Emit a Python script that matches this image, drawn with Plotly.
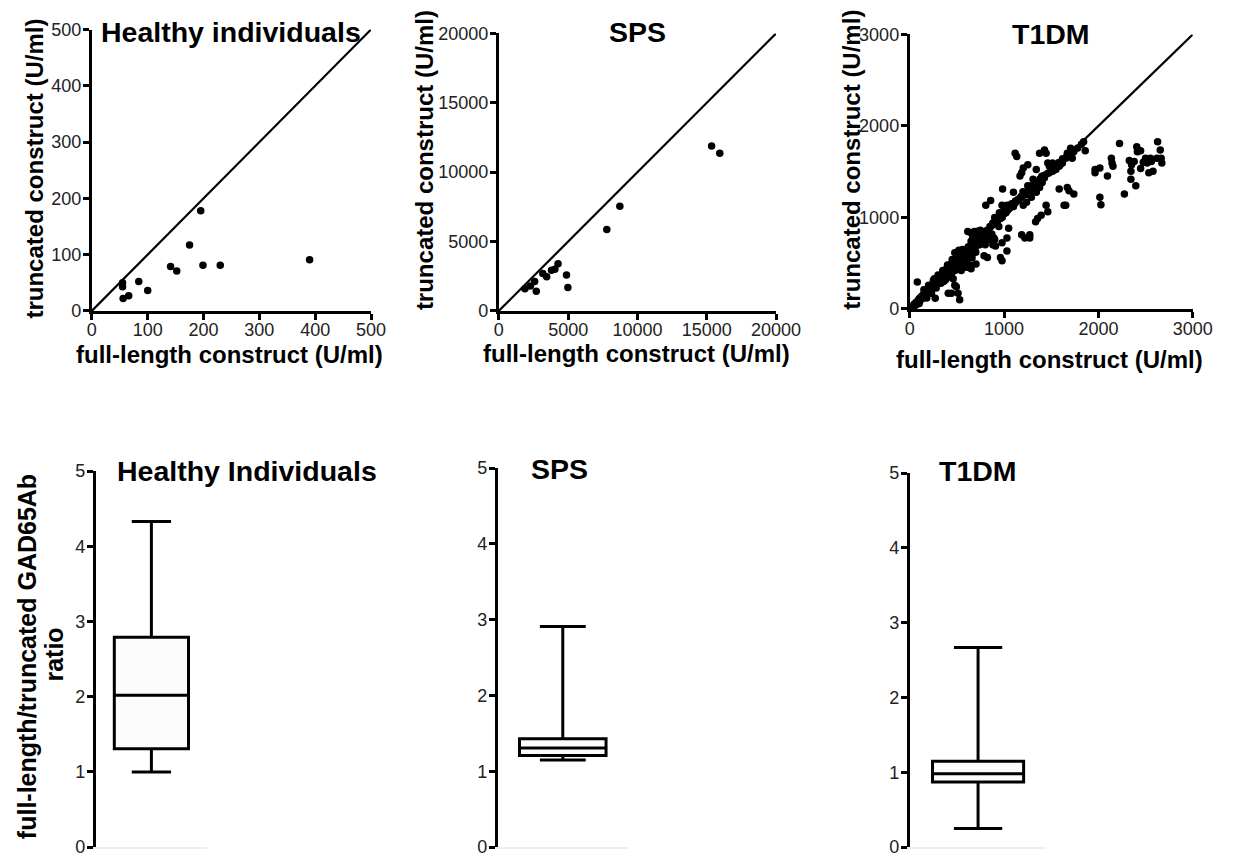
import plotly.graph_objects as go

# ---------------- data ----------------
hi_full = [55, 55, 56, 66, 84, 100, 141, 152, 175, 195, 199, 230, 390]
hi_trunc = [50, 43, 22, 27, 52, 36, 79, 71, 117, 178, 81, 81, 91]

sps_full = [1880, 2280, 2580, 2700, 3170, 3450, 3800, 4040, 4270, 4880, 4980, 7790, 8730, 15350, 15940]
sps_trunc = [1590, 1800, 2110, 1410, 2700, 2460, 2930, 3000, 3400, 2580, 1690, 5860, 7550, 11890, 11370]

t1_full = [
    20, 30, 40, 45, 55, 60, 65, 70, 75, 80, 85, 90, 95, 100, 100, 105, 110, 115, 120, 125,
    130, 135, 140, 145, 150, 155, 160, 165, 170, 175, 180, 185, 190, 195, 200, 205, 210, 215, 220, 225,
    230, 235, 240, 245, 250, 255, 260, 265, 270, 275, 280, 285, 290, 295, 300, 305, 310, 315, 320, 325,
    330, 335, 340, 345, 350, 355, 360, 365, 370, 375, 380, 385, 390, 395, 400, 405, 410, 415, 420, 425,
    430, 435, 440, 445, 450, 455, 460, 465, 470, 480, 490, 500, 510, 520, 530, 540, 550, 560, 570, 580,
    590, 600, 610, 620, 630, 640, 660, 680, 700, 720, 740, 760, 780, 800,
    80, 270, 408, 442, 494, 512, 529, 477, 546, 581, 460,
    615, 650, 684, 719, 736, 650, 700, 750, 770, 546, 580, 560, 477,
    820, 850, 880, 900, 930, 950, 980, 1000, 1020, 1050, 1080, 1100, 1120, 1150, 1180, 1200, 1230, 1260,
    1290, 1300, 1330, 1350, 1380, 1400, 1430, 1460, 1500, 1540, 1580, 1600, 1620, 1660, 1700, 1740, 1780, 1820,
    1117, 1134, 1203, 1186, 1251, 1341, 1307, 1251, 1272, 1238, 1289, 1341, 1376, 1238, 1203, 1030, 1065, 978,
    984, 857, 806, 961, 1048, 1099, 1168, 1355, 1334, 1393, 1445, 1463, 1186, 1220, 1272, 1272, 978, 978,
    961, 1030, 1030, 892, 909, 944, 823, 788, 719, 684, 667, 857, 823, 788, 702, 650, 615,
    1843, 1860, 1722, 1722, 1705, 1670, 1653, 1618, 1584, 1549, 1514, 1480, 1428, 1404, 1514, 1532, 1670, 1688,
    1739, 1584, 1636, 1653, 1445, 1428, 1376, 1463, 1480,
    1964, 1964, 2015, 2015, 2026, 2095, 2137, 2144, 2154, 2223, 2275, 2327, 2344, 2344, 2351, 2379, 2396,
    2406, 2413, 2447, 2447, 2475, 2499, 2516, 2534, 2551, 2561, 2578, 2620, 2627, 2655, 2672, 2665,
    150, 200, 250, 300, 350, 400, 450, 500, 520, 480, 420, 380, 330, 280, 230, 180, 160, 260, 360, 440,
    550, 600, 620, 680, 660, 700, 750, 720, 800, 830, 870, 880, 900, 640, 590, 540, 500, 470, 430, 390,
]
t1_trunc = [
    15, 25, 30, 50, 40, 55, 70, 45, 60, 80, 70, 95, 85, 110, 60, 95, 120, 100, 130, 110,
    140, 125, 150, 120, 160, 145, 130, 175, 150, 190, 165, 200, 170, 215, 185, 225, 200, 230, 190, 245,
    215, 260, 220, 270, 240, 280, 250, 290, 260, 300, 265, 320, 280, 310, 290, 340, 295, 330, 300, 355,
    320, 370, 330, 360, 340, 390, 345, 380, 360, 410, 370, 400, 375, 430, 390, 450, 400, 470, 410, 440,
    420, 490, 430, 460, 440, 510, 450, 480, 460, 500, 470, 540, 490, 560, 510, 580, 530, 600, 550, 620,
    570, 640, 590, 560, 600, 650, 640, 700, 680, 720, 700, 760, 740, 820,
    295, 117, 171, 171, 242, 171, 100, 260, 420, 456, 331,
    847, 829, 847, 829, 800, 740, 700, 780, 720, 633, 600, 650, 615,
    860, 900, 940, 1000, 960, 1050, 1000, 1080, 1050, 1100, 1150, 1120, 1180, 1200, 1230, 1280, 1250, 1300,
    1290, 1350, 1380, 1340, 1420, 1450, 1460, 1480, 1520, 1560, 1600, 1580, 1640, 1660, 1690, 1720, 1760, 1800,
    1701, 1666, 1541, 1488, 1577, 1523, 1417, 1345, 1310, 1256, 1221, 1274, 1327, 1167, 1132, 1132, 1132, 1132,
    1310, 1185, 1132, 989, 882, 1274, 1452, 989, 953, 1025, 1132, 1061, 811, 776, 811, 776, 722, 527,
    562, 776, 633, 776, 687, 900, 776, 811, 847, 829, 776, 776, 562, 580, 491, 438, 456,
    1826, 1730, 1701, 1648, 1755, 1701, 1648, 1594, 1559, 1523, 1505, 1488, 1434, 1381, 1594, 1577, 1327, 1292,
    1256, 1310, 1132, 1132, 1701, 1737, 1701, 1594, 1559,
    1488, 1523, 1541, 1221, 1139, 1452, 1648, 1594, 1559, 1808, 1256, 1623, 1505, 1416, 1577, 1612, 1345,
    1772, 1719, 1534, 1730, 1602, 1648, 1594, 1488, 1648, 1612, 1505, 1648, 1826, 1737, 1594, 1648,
    210, 260, 310, 370, 420, 480, 540, 600, 640, 420, 350, 320, 280, 230, 170, 120, 200, 330, 300, 380,
    480, 520, 680, 760, 560, 620, 860, 850, 700, 760, 820, 700, 760, 480, 500, 560, 460, 520, 480, 440,
]

box_groups = ["Healthy Individuals", "SPS", "T1DM"]
box_lowerfence = [1.00, 1.15, 0.25]
box_q1 = [1.31, 1.21, 0.87]
box_median = [2.02, 1.31, 0.98]
box_q3 = [2.79, 1.43, 1.15]
box_upperfence = [4.33, 2.91, 2.67]

scatter_titles = ["Healthy individuals", "SPS", "T1DM"]
scatter_max = [500, 20000, 3000]
scatter_dtick = [100, 5000, 1000]

# ---------------- figure ----------------
W, H = 1250, 865
FONT = "Liberation Sans, Arial, sans-serif"

def px_x(p):
    return p / W

def px_y(p):
    return 1 - p / H

fig = go.Figure()

axis_common = dict(
    showline=True, linecolor="black", linewidth=3,
    ticks="outside", ticklen=6, tickwidth=2.5, tickcolor="black",
    showgrid=False, zeroline=False, tickformat="d",
    tickfont=dict(family=FONT, size=18, color="#222222"),
)

top_dom = [
    ((89, 375), (20, 308)),
    ((506, 790), (24, 308)),
    ((927, 1217), (25, 306)),
]
datasets = [(hi_full, hi_trunc), (sps_full, sps_trunc), (t1_full, t1_trunc)]

layout_axes = {}
for i in range(3):
    (x0, x1), (y0, y1) = top_dom[i]
    xa = "xaxis" if i == 0 else f"xaxis{i+1}"
    ya = "yaxis" if i == 0 else f"yaxis{i+1}"
    xr = "x" if i == 0 else f"x{i+1}"
    yr = "y" if i == 0 else f"y{i+1}"
    layout_axes[xa] = dict(axis_common, domain=[px_x(x0), px_x(x1)], range=[0, scatter_max[i]],
                           dtick=scatter_dtick[i], tick0=0, anchor=yr, ticklabelstandoff=-5)
    layout_axes[ya] = dict(axis_common, domain=[px_y(y1), px_y(y0)], range=[0, scatter_max[i]],
                           dtick=scatter_dtick[i], tick0=0, anchor=xr, ticklabelstandoff=-2)
    fig.add_trace(go.Scatter(x=[0, scatter_max[i]], y=[0, scatter_max[i]], mode="lines",
                             line=dict(color="black", width=2.2), xaxis=xr, yaxis=yr,
                             showlegend=False, hoverinfo="skip"))
    fx, fy = datasets[i]
    fig.add_trace(go.Scatter(x=fx, y=fy, mode="markers",
                             marker=dict(color="black", size=7.5), xaxis=xr, yaxis=yr,
                             showlegend=False, cliponaxis=False))

bot_dom = [
    ((93, 207), (472, 857)),
    ((505, 638), (469, 857)),
    ((927, 1067), (474, 857)),
]
for i in range(3):
    k = i + 4
    (x0, x1), (y0, y1) = bot_dom[i]
    xa, ya, xr, yr = f"xaxis{k}", f"yaxis{k}", f"x{k}", f"y{k}"
    layout_axes[xa] = dict(domain=[px_x(x0), px_x(x1)], range=[-0.75, 0.75], anchor=yr,
                           showline=True, linecolor="#eeeeee", linewidth=1.5,
                           showticklabels=False, ticks="", showgrid=False, zeroline=False)
    layout_axes[ya] = dict(axis_common, domain=[px_y(y1), px_y(y0)], range=[0, 5], dtick=1,
                           tick0=0, anchor=xr, ticklabelstandoff=-2)
    fig.add_trace(go.Box(x=[0], q1=[box_q1[i]], median=[box_median[i]], q3=[box_q3[i]],
                         lowerfence=[box_lowerfence[i]], upperfence=[box_upperfence[i]],
                         width=1.0, whiskerwidth=0.53, fillcolor="#fcfcfc",
                         line=dict(color="black", width=3), boxpoints=False,
                         name=box_groups[i], xaxis=xr, yaxis=yr, showlegend=False))

annotations = []
def ann(text, x, y, size, bold=True, angle=0):
    annotations.append(dict(
        text=f"<b>{text}</b>" if bold else text,
        x=px_x(x), y=px_y(y), xref="paper", yref="paper",
        xanchor="center", yanchor="middle", showarrow=False, textangle=angle,
        font=dict(family=FONT, size=size, color="black"),
    ))

ann("Healthy individuals", 232, 23, 28.5)
ann("SPS", 648, 23, 28.5)
ann("T1DM", 1072, 25, 28.5)
ann("Healthy Individuals", 248, 472, 28.5)
ann("SPS", 568, 470, 28.5)
ann("T1DM", 997, 472, 28.5)
ann("full-length construct (U/ml)", 230, 353, 24)
ann("full-length construct (U/ml)", 647, 352, 24)
ann("full-length construct (U/ml)", 1070, 358, 24)
ann("truncated construct (U/ml)", 30, 162, 24, angle=-90)
ann("truncated construct (U/ml)", 430, 154, 24, angle=-90)
ann("truncated construct (U/ml)", 867, 153, 24, angle=-90)
ann("full-length/truncated GAD65Ab", 22, 662, 25, angle=-90)
ann("ratio", 50, 660, 25, angle=-90)

fig.update_layout(
    width=W, height=H,
    margin=dict(l=0, r=0, t=0, b=0),
    paper_bgcolor="white", plot_bgcolor="white",
    showlegend=False,
    annotations=annotations,
    font=dict(family=FONT),
    **layout_axes,
)

fig.write_html("out.html", config={"displayModeBar": False},
               post_script="document.body.style.margin='0';")
